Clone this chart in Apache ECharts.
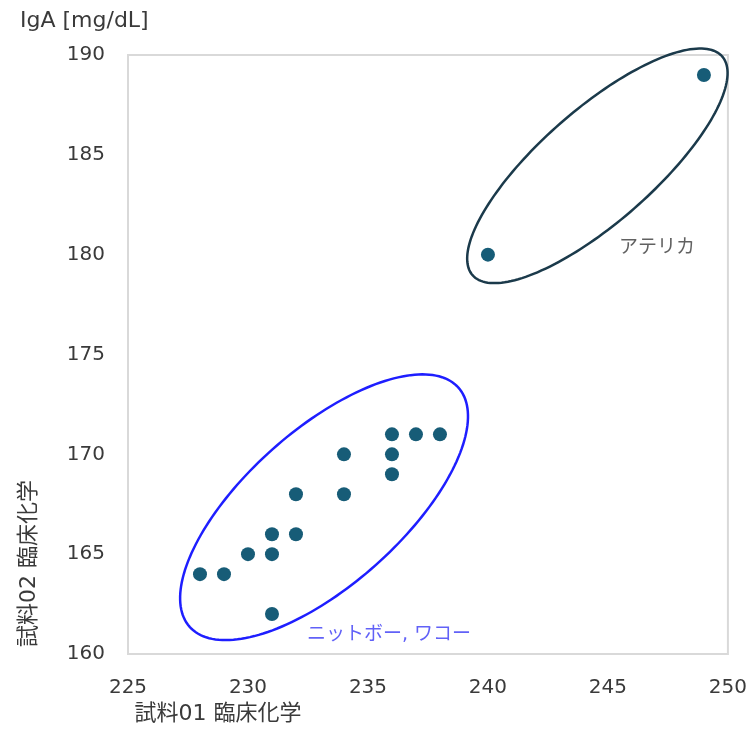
<!DOCTYPE html>
<html>
<head>
<meta charset="utf-8">
<script src="https://cdn.jsdelivr.net/npm/echarts@6/dist/echarts.min.js"></script>
<style>html,body{margin:0;padding:0;background:#fff}#c{width:750px;height:730px}</style>
</head>
<body>
<div id="c"></div>
<script>
// Measured pairs: [試料01 臨床化学, 試料02 臨床化学]
var atellicaX = [240, 249];
var atellicaY = [180, 189];
var nittoboX = [228, 229, 230, 231, 231, 231, 232, 232, 234, 234, 236, 236, 236, 237, 238];
var nittoboY = [164, 164, 165, 166, 165, 162, 168, 166, 170, 168, 171, 170, 169, 171, 171];
var xTicks = [225, 230, 235, 240, 245, 250];
var yTicks = [160, 165, 170, 175, 180, 185, 190];
// Group ellipses in data units: [centerX, centerY, semiAxis1X, semiAxis1Y, semiAxis2X, semiAxis2Y]
var ellipseAtellica = [244.56, 184.45, 5.20, 5.48, 1.55, -2.12];
var ellipseNittobo = [233.17, 167.35, 5.60, 5.99, 2.15, -2.90];
// Group labels: [x, y, text]
var labelAtellica = [247.04, 180.35, 'アテリカ'];
var labelNittobo = [232.46, 160.95, 'ニットボー, ワコー'];

var FONT = 'DejaVu Sans, "Noto Sans CJK JP", sans-serif';
var TXT = '#3a3a3a';

function zip(a, b) { return a.map(function (v, i) { return [v, b[i]]; }); }

function ellipseRender(color) {
  return function (params, api) {
    var cx = api.value(0), cy = api.value(1);
    var ux = api.value(2), uy = api.value(3), vx = api.value(4), vy = api.value(5);
    var pts = [];
    for (var k = 0; k <= 180; k++) {
      var t = k / 180 * Math.PI * 2;
      var c = Math.cos(t), s = Math.sin(t);
      pts.push(api.coord([cx + c * ux + s * vx, cy + c * uy + s * vy]));
    }
    return {
      type: 'polyline',
      shape: { points: pts },
      style: { stroke: color, lineWidth: 2.5, fill: null }
    };
  };
}

var chart = echarts.init(document.getElementById('c'), null, { renderer: 'canvas' });
chart.setOption({
  backgroundColor: '#ffffff',
  animation: false,
  title: {
    text: 'IgA [mg/dL]', left: 15, top: 5,
    textStyle: { fontFamily: FONT, fontSize: 22, fontWeight: 'normal', color: TXT }
  },
  grid: { left: 128, right: 22, top: 55, bottom: 75, show: true, borderColor: '#d9d9d9', borderWidth: 2 },
  xAxis: {
    type: 'value', min: xTicks[0], max: xTicks[xTicks.length - 1], interval: 5,
    axisLine: { show: false }, axisTick: { show: false }, splitLine: { show: false },
    axisLabel: { margin: 24, fontFamily: FONT, fontSize: 20, color: TXT },
    name: '試料01 臨床化学', nameLocation: 'middle', nameGap: 49,
    nameTextStyle: { fontFamily: FONT, fontSize: 22, color: TXT, padding: [0, 420, 0, 0] }
  },
  yAxis: {
    type: 'value', min: yTicks[0], max: yTicks[yTicks.length - 1], interval: 5,
    axisLine: { show: false }, axisTick: { show: false }, splitLine: { show: false },
    axisLabel: { margin: 23, fontFamily: FONT, fontSize: 20, color: TXT },
    name: '試料02 臨床化学', nameLocation: 'middle', nameGap: 88, nameRotate: 90,
    nameTextStyle: { fontFamily: FONT, fontSize: 22, color: TXT, padding: [0, 418, 0, 0] }
  },
  series: [
    {
      type: 'custom', name: 'ellipseAtellica', clip: false, z: 1,
      renderItem: ellipseRender('#1b3a4b'),
      data: [ellipseAtellica], encode: { x: 0, y: 1 }, silent: true
    },
    {
      type: 'custom', name: 'ellipseNittobo', clip: false, z: 1,
      renderItem: ellipseRender('#1e1eff'),
      data: [ellipseNittobo], encode: { x: 0, y: 1 }, silent: true
    },
    {
      type: 'scatter', name: 'アテリカ', z: 3, symbolSize: 14,
      itemStyle: { color: '#175c77', opacity: 1 },
      data: zip(atellicaX, atellicaY)
    },
    {
      type: 'scatter', name: 'ニットボー, ワコー', z: 3, symbolSize: 14,
      itemStyle: { color: '#175c77', opacity: 1 },
      data: zip(nittoboX, nittoboY)
    },
    {
      type: 'scatter', z: 4, symbolSize: 0, silent: true,
      data: [[labelAtellica[0], labelAtellica[1]]],
      label: { show: true, position: 'inside', formatter: labelAtellica[2],
        fontFamily: FONT, fontSize: 19, color: TXT }
    },
    {
      type: 'scatter', z: 4, symbolSize: 0, silent: true,
      data: [[labelNittobo[0], labelNittobo[1]]],
      label: { show: true, position: 'right', distance: 0, formatter: labelNittobo[2],
        fontFamily: FONT, fontSize: 19, color: '#3a3af5' }
    }
  ]
});
</script>
</body>
</html>
